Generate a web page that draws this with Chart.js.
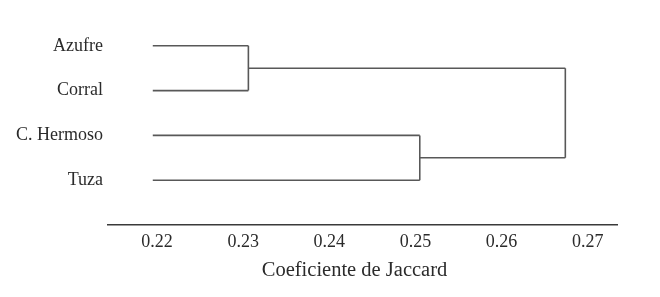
<!DOCTYPE html>
<html>
<head>
<meta charset="utf-8">
<script src="https://cdn.jsdelivr.net/npm/chart.js@4.4.1/dist/chart.umd.min.js"></script>
<style>
  html, body { margin: 0; padding: 0; background: #fff; }
  #wrap { width: 660px; height: 297px; }
</style>
</head>
<body>
<div id="wrap"><canvas id="dendro"></canvas></div>
<script>
// sites (leaves, top to bottom)
const sites = ["Azufre", "Corral", "C. Hermoso", "Tuza"];
// where the leaf branches start on the Jaccard axis
const leafStart = 0.2195;
// merges: [left member, right member, height]; members >= sites.length are earlier merges
const mergeA = [0, 1, 0.2306];
const mergeB = [2, 3, 0.2505];
const mergeC = [4, 5, 0.2674];
const merges = [mergeA, mergeB, mergeC];
const xTicks = [0.22, 0.23, 0.24, 0.25, 0.26, 0.27];
const xTitle = "Coeficiente de Jaccard";

const lineCol = "#585858";
const textCol = "#2b2b2b";
const serif = "'Liberation Serif', 'Times New Roman', serif";

// build the segments of the tree from the merges
const nodes = sites.map((s, i) => ({ x: leafStart, y: i }));
const segs = [];
merges.forEach(m => {
    const a = nodes[m[0]], b = nodes[m[1]], h = m[2];
    segs.push([{ x: a.x, y: a.y }, { x: h, y: a.y }]);
    segs.push([{ x: b.x, y: b.y }, { x: h, y: b.y }]);
    segs.push([{ x: h, y: a.y }, { x: h, y: b.y }]);
    nodes.push({ x: h, y: (a.y + b.y) / 2 });
});

const datasets = segs.map(s => ({
    data: s,
    showLine: true,
    borderColor: lineCol,
    borderWidth: 1.6,
    pointRadius: 0,
    fill: false
}));

// axis title drawn a little left of the plot centre, like the original
const axisTitle = {
    id: "axisTitle",
    afterDraw(chart) {
        const c = chart.ctx, a = chart.chartArea;
        c.save();
        c.fillStyle = textCol;
        c.font = "20.5px " + serif;
        c.textAlign = "center";
        c.textBaseline = "middle";
        c.fillText(xTitle, (a.left + a.right) / 2 - 8, a.bottom + 46);
        c.restore();
    }
};

const ctx = document.getElementById("dendro").getContext("2d");
const chart = new Chart(ctx, {
    type: "scatter",
    data: { datasets: datasets },
    plugins: [axisTitle],
    options: {
        responsive: true,
        maintainAspectRatio: false,
        animation: false,
        layout: { padding: { top: 0, right: 43, left: 0, bottom: 0 } },
        plugins: { legend: { display: false }, tooltip: { enabled: false } },
        scales: {
            x: {
                type: "linear",
                min: 0.2143,
                max: 0.2734,
                afterBuildTicks: (scale) => { scale.ticks = xTicks.map(v => ({ value: v })); },
                afterFit: (scale) => { scale.height = 72; },
                grid: { display: false, drawTicks: false },
                border: { display: true, color: "#3a3a3a", width: 1.6 },
                ticks: {
                    color: textCol,
                    font: { family: serif, size: 18 },
                    padding: 6,
                    callback: (v) => v.toFixed(2)
                }
            },
            y: {
                type: "linear",
                min: -0.67,
                max: 4,
                reverse: true,
                afterBuildTicks: (scale) => { scale.ticks = sites.map((s, i) => ({ value: i })); },
                afterFit: (scale) => { scale.width = 108; },
                grid: { display: false, drawTicks: false },
                border: { display: false },
                ticks: {
                    color: textCol,
                    font: { family: serif, size: 18 },
                    padding: 5,
                    callback: (v) => sites[v]
                }
            }
        }
    }
});
</script>
</body>
</html>
